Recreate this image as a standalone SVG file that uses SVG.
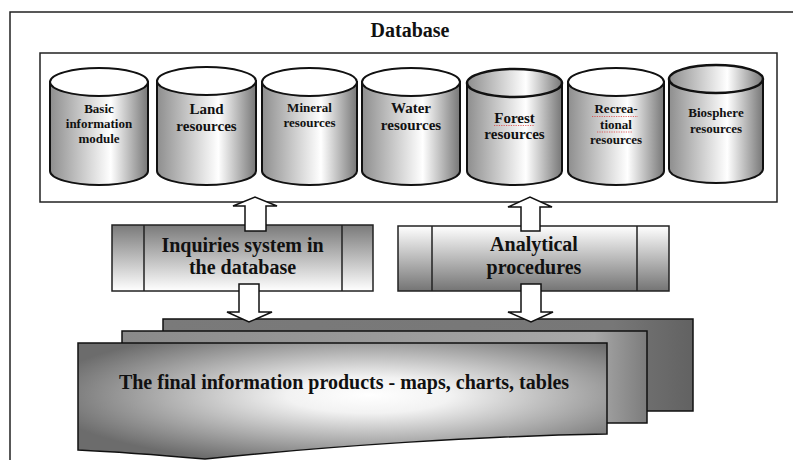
<svg xmlns="http://www.w3.org/2000/svg" width="793" height="460" viewBox="0 0 793 460">
<defs>
<linearGradient id="cyl" x1="0" y1="0" x2="1" y2="0">
<stop offset="0" stop-color="#8e8e8e"/>
<stop offset="0.62" stop-color="#ffffff"/>
<stop offset="1" stop-color="#777777"/>
</linearGradient>
<linearGradient id="gTopDark" x1="0" y1="0" x2="0" y2="1">
<stop offset="0" stop-color="#7a7a7a"/>
<stop offset="1" stop-color="#ffffff"/>
</linearGradient>
<linearGradient id="gBotDark" x1="0" y1="0" x2="0" y2="1">
<stop offset="0" stop-color="#ffffff"/>
<stop offset="1" stop-color="#747474"/>
</linearGradient>
<radialGradient id="front" cx="0.55" cy="0.45" r="0.62">
<stop offset="0" stop-color="#ffffff"/>
<stop offset="0.25" stop-color="#f2f2f2"/>
<stop offset="1" stop-color="#6c6c6c"/>
</radialGradient>
<linearGradient id="mid" x1="0" y1="0" x2="1" y2="0">
<stop offset="0" stop-color="#8a8a8a"/>
<stop offset="0.9" stop-color="#a8a8a8"/>
<stop offset="1" stop-color="#7c7c7c"/>
</linearGradient>
<linearGradient id="back" x1="0" y1="0" x2="1" y2="0">
<stop offset="0" stop-color="#7a7a7a"/>
<stop offset="0.85" stop-color="#777777"/>
<stop offset="1" stop-color="#626262"/>
</linearGradient>
</defs>
<style>
.ln{fill:none;stroke:#222;stroke-width:1.5}
.cb{fill:url(#cyl);stroke:#111;stroke-width:2}
.ct{fill:#fff;stroke:#111;stroke-width:2}
.ctg{fill:url(#cyl);stroke:#111;stroke-width:2.5}
.t{font-family:'Liberation Serif','DejaVu Serif',serif;font-weight:bold;fill:#111;text-anchor:middle}
.s13{font-size:13px}
.s15{font-size:15px}
.s20{font-size:20px}
.box{stroke:#222;stroke-width:1.5}
.arr{fill:#fff;stroke:#111;stroke-width:1.5;stroke-linejoin:miter}
.sheet{stroke:#111;stroke-width:1.5}
.sq{fill:none;stroke:#e04040;stroke-width:0.8;stroke-dasharray:1.2 1.2}
</style>

<g id="frame">
<path class="ln" d="M10,460 V12 H793"/>
</g>
<g id="database">
<rect x="40" y="53" width="737" height="149" fill="#fff" stroke="#222" stroke-width="1.5"/>
<text class="t s20" x="410" y="37">Database</text>
</g>

<g id="cyl-basic">
<path class="cb" d="M50,82 V171 A49,14 0 0 0 148,171 V82 Z"/>
<ellipse class="ct" cx="99" cy="82" rx="49" ry="14"/>
<text class="t s13" x="99" y="113">Basic</text>
<text class="t s13" x="99" y="128">information</text>
<text class="t s13" x="99" y="143">module</text>
</g>
<g id="cyl-land">
<path class="cb" d="M157,81 V171 A49.5,14 0 0 0 256,171 V81 Z"/>
<ellipse class="ct" cx="206.5" cy="81" rx="49.5" ry="14"/>
<text class="t s15" x="206.5" y="114">Land</text>
<text class="t s15" x="206.5" y="131">resources</text>
</g>
<g id="cyl-mineral">
<path class="cb" d="M262,82 V171 A47.5,14 0 0 0 357,171 V82 Z"/>
<ellipse class="ct" cx="309.5" cy="82" rx="47.5" ry="14"/>
<text class="t s13" x="309.5" y="112">Mineral</text>
<text class="t s13" x="309.5" y="127">resources</text>
</g>
<g id="cyl-water">
<path class="cb" d="M362,82 V171 A49,14 0 0 0 460,171 V82 Z"/>
<ellipse class="ct" cx="411" cy="82" rx="49" ry="14"/>
<text class="t s15" x="411" y="113">Water</text>
<text class="t s15" x="411" y="130">resources</text>
</g>
<g id="cyl-forest">
<path class="cb" d="M467,83 V171 A47.5,14 0 0 0 562,171 V83 Z"/>
<ellipse class="ctg" cx="514.5" cy="83" rx="47.5" ry="14"/>
<text class="t s15" x="514.5" y="123">Forest</text>
<text class="t s15" x="514.5" y="139">resources</text>
<path class="sq" d="M494,125.5 H534"/>
</g>
<g id="cyl-recreational">
<path class="cb" d="M568,82 V171 A48,14 0 0 0 664,171 V82 Z"/>
<ellipse class="ct" cx="616" cy="82" rx="48" ry="14"/>
<text class="t s13" x="616" y="113">Recrea-</text>
<text class="t s13" x="616" y="129">tional</text>
<text class="t s13" x="616" y="144">resources</text>
<path class="sq" d="M592,116.5 H638 M597,132 H633" stroke-dasharray="none" stroke-width="0.9"/>
</g>
<g id="cyl-biosphere">
<path class="cb" d="M669,79 V169 A47,14 0 0 0 763,169 V79 Z"/>
<ellipse class="ctg" cx="716" cy="79" rx="47" ry="14"/>
<text class="t s13" x="716" y="117">Biosphere</text>
<text class="t s13" x="716" y="133">resources</text>
</g>

<g id="inquiries">
<rect class="box" x="112" y="225" width="261" height="66" fill="url(#gTopDark)"/>
<path class="box" d="M144,225 V291 M342,225 V291" fill="none"/>
<text class="t s20" x="242.5" y="252">Inquiries system in</text>
<text class="t s20" x="242.5" y="274">the database</text>
</g>
<g id="analytical">
<rect class="box" x="398" y="226" width="271" height="65" fill="url(#gBotDark)"/>
<path class="box" d="M432,226 V291 M637,226 V291" fill="none"/>
<text class="t s20" x="534" y="251">Analytical</text>
<text class="t s20" x="534" y="274">procedures</text>
</g>

<g id="products">
<rect class="sheet" x="163" y="319" width="530" height="92" fill="url(#back)"/>
<rect class="sheet" x="122" y="331" width="525" height="92" fill="url(#mid)"/>
<path class="sheet" fill="url(#front)" d="M78,343 H607 V434 C480,436 330,446 205,459 C170,456 120,452 78,450 Z"/>
<text class="t s20" x="344" y="389">The final information products - maps, charts, tables</text>
</g>

<g id="connectors">
<polygon class="arr" points="245,231 245,206 233,206 255,197 277,206 266,206 266,231"/>
<polygon class="arr" points="521,231 521,207 508,207 530,197 552,207 540,207 540,231"/>
<polygon class="arr" points="239,284 259,284 259,312 272,312 249,322 227,312 239,312"/>
<polygon class="arr" points="521,284 541,284 541,312 553,312 531,322 508,312 521,312"/>
</g>
</svg>
